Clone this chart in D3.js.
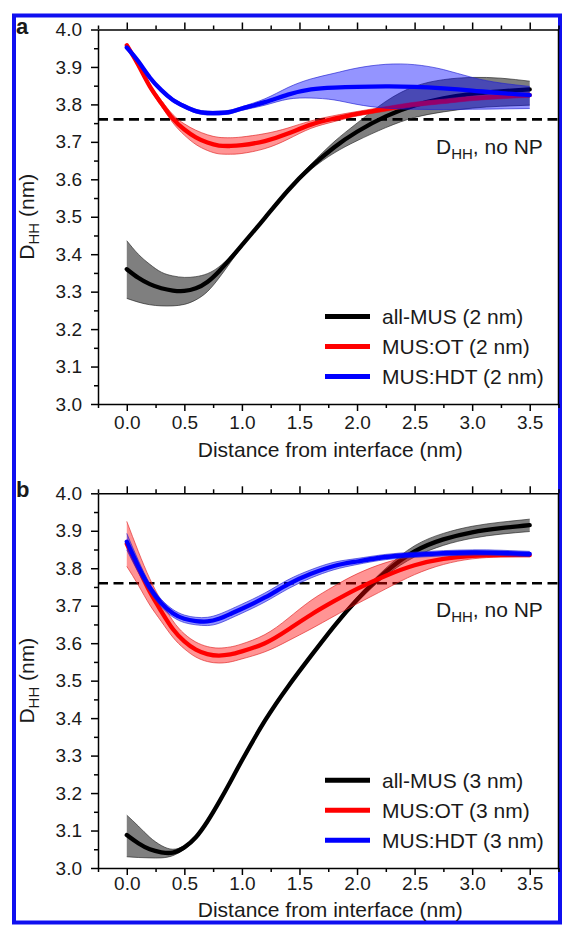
<!DOCTYPE html>
<html>
<head>
<meta charset="utf-8">
<script src="https://cdn.jsdelivr.net/npm/d3@7"></script>
<style>
  html, body { margin: 0; padding: 0; background: #fff; }
  svg { display: block; }
  text { font-family: "Liberation Sans", Arial, sans-serif; fill: #1a1a1a; }
</style>
</head>
<body>
<svg id="fig" width="562" height="925"></svg>
<script>
// Distance from the interface (nm), shared by every profile
const distance = [0, 0.1, 0.2, 0.3, 0.4, 0.5, 0.6, 0.7, 0.8, 0.9, 1.0, 1.2, 1.4, 1.6, 1.8, 2.0, 2.25, 2.5, 2.75, 3.0, 3.25, 3.5];

// Panel a: 2 nm nanoparticles — mean D_HH and its confidence band (nm)
const a_allMUS_mean  = [3.360, 3.337, 3.320, 3.309, 3.303, 3.302, 3.309, 3.326, 3.354, 3.388, 3.424, 3.497, 3.570, 3.633, 3.685, 3.727, 3.768, 3.797, 3.816, 3.828, 3.835, 3.840];
const a_allMUS_lower = [3.282, 3.272, 3.265, 3.262, 3.262, 3.266, 3.278, 3.300, 3.336, 3.378, 3.419, 3.494, 3.566, 3.626, 3.670, 3.703, 3.738, 3.765, 3.780, 3.790, 3.795, 3.798];
const a_allMUS_upper = [3.436, 3.400, 3.373, 3.352, 3.342, 3.338, 3.340, 3.348, 3.366, 3.394, 3.428, 3.500, 3.574, 3.640, 3.700, 3.750, 3.808, 3.848, 3.866, 3.872, 3.870, 3.862];

const a_OT_mean  = [3.958, 3.905, 3.848, 3.803, 3.762, 3.733, 3.712, 3.698, 3.690, 3.689, 3.691, 3.702, 3.722, 3.746, 3.762, 3.775, 3.788, 3.800, 3.808, 3.816, 3.821, 3.825];
const a_OT_lower = [3.954, 3.900, 3.842, 3.795, 3.751, 3.718, 3.693, 3.677, 3.668, 3.667, 3.669, 3.682, 3.707, 3.736, 3.754, 3.769, 3.782, 3.794, 3.802, 3.810, 3.815, 3.819];
const a_OT_upper = [3.962, 3.910, 3.854, 3.811, 3.773, 3.748, 3.731, 3.719, 3.712, 3.711, 3.713, 3.722, 3.737, 3.756, 3.770, 3.781, 3.794, 3.806, 3.814, 3.822, 3.827, 3.831];

const a_HDT_mean  = [3.952, 3.915, 3.872, 3.838, 3.812, 3.795, 3.782, 3.777, 3.777, 3.780, 3.789, 3.806, 3.826, 3.840, 3.845, 3.847, 3.848, 3.847, 3.843, 3.837, 3.830, 3.825];
const a_HDT_lower = [3.948, 3.910, 3.867, 3.833, 3.807, 3.790, 3.777, 3.772, 3.772, 3.775, 3.784, 3.798, 3.814, 3.817, 3.812, 3.800, 3.790, 3.787, 3.786, 3.787, 3.788, 3.789];
const a_HDT_upper = [3.956, 3.920, 3.877, 3.843, 3.817, 3.800, 3.787, 3.782, 3.782, 3.785, 3.794, 3.815, 3.845, 3.868, 3.883, 3.897, 3.907, 3.906, 3.893, 3.872, 3.857, 3.848];

// Panel b: 3 nm nanoparticles
const b_allMUS_mean  = [3.088, 3.066, 3.050, 3.042, 3.041, 3.055, 3.082, 3.124, 3.175, 3.230, 3.287, 3.393, 3.484, 3.566, 3.645, 3.716, 3.790, 3.845, 3.877, 3.896, 3.907, 3.915];
const b_allMUS_lower = [3.030, 3.028, 3.027, 3.027, 3.033, 3.050, 3.077, 3.119, 3.170, 3.225, 3.282, 3.388, 3.479, 3.561, 3.640, 3.709, 3.780, 3.830, 3.861, 3.880, 3.891, 3.898];
const b_allMUS_upper = [3.141, 3.112, 3.082, 3.060, 3.050, 3.060, 3.087, 3.129, 3.180, 3.235, 3.292, 3.398, 3.489, 3.571, 3.650, 3.723, 3.800, 3.860, 3.893, 3.912, 3.923, 3.931];

const b_OT_mean  = [3.865, 3.800, 3.737, 3.685, 3.638, 3.605, 3.583, 3.571, 3.567, 3.570, 3.578, 3.600, 3.636, 3.676, 3.712, 3.745, 3.780, 3.808, 3.825, 3.833, 3.835, 3.835];
const b_OT_lower = [3.805, 3.755, 3.702, 3.658, 3.616, 3.585, 3.563, 3.551, 3.547, 3.550, 3.558, 3.577, 3.606, 3.638, 3.672, 3.705, 3.745, 3.783, 3.810, 3.825, 3.830, 3.831];
const b_OT_upper = [3.925, 3.845, 3.772, 3.712, 3.660, 3.625, 3.603, 3.591, 3.587, 3.590, 3.598, 3.623, 3.666, 3.714, 3.752, 3.785, 3.815, 3.833, 3.840, 3.841, 3.840, 3.839];

const b_HDT_mean  = [3.871, 3.805, 3.748, 3.707, 3.680, 3.665, 3.659, 3.658, 3.665, 3.678, 3.692, 3.722, 3.757, 3.785, 3.806, 3.818, 3.830, 3.836, 3.840, 3.842, 3.841, 3.838];
const b_HDT_lower = [3.849, 3.789, 3.737, 3.697, 3.670, 3.655, 3.649, 3.647, 3.653, 3.666, 3.680, 3.710, 3.745, 3.774, 3.796, 3.810, 3.823, 3.829, 3.833, 3.835, 3.834, 3.831];
const b_HDT_upper = [3.893, 3.821, 3.759, 3.717, 3.690, 3.675, 3.669, 3.669, 3.677, 3.690, 3.704, 3.734, 3.769, 3.796, 3.816, 3.826, 3.837, 3.843, 3.847, 3.849, 3.848, 3.845];

// Reference head-head distance without nanoparticle (nm)
const dhhNoNP = 3.76;

// Axis ticks
const xMajorTicks = [0, 0.5, 1.0, 1.5, 2.0, 2.5, 3.0, 3.5];
const xMinorTicks = [-0.25, 0.25, 0.75, 1.25, 1.75, 2.25, 2.75, 3.25, 3.75];
const yMajorTicks = [3.0, 3.1, 3.2, 3.3, 3.4, 3.5, 3.6, 3.7, 3.8, 3.9, 4.0];
const yMinorTicks = [3.05, 3.15, 3.25, 3.35, 3.45, 3.55, 3.65, 3.75, 3.85, 3.95];

const seriesNames = ["all-MUS", "MUS:OT", "MUS:HDT"];
const seriesColors = ["#000000", "#ff0000", "#0000ff"];
const bandFills = ["rgba(0,0,0,0.5)", "rgba(255,0,0,0.42)", "rgba(0,0,255,0.42)"];
const bandEdges = ["#222222", "#e02020", "#2020d0"];

const panels = [
  { label: "a", size: "2 nm", top: 29.5, bottom: 404, tickPad: 5, titleDy: 53,
    series: [
      [a_allMUS_mean, a_allMUS_lower, a_allMUS_upper],
      [a_OT_mean, a_OT_lower, a_OT_upper],
      [a_HDT_mean, a_HDT_lower, a_HDT_upper]
    ] },
  { label: "b", size: "3 nm", top: 493.3, bottom: 868, tickPad: 1.5, titleDy: 48.5,
    series: [
      [b_allMUS_mean, b_allMUS_lower, b_allMUS_upper],
      [b_OT_mean, b_OT_lower, b_OT_upper],
      [b_HDT_mean, b_HDT_lower, b_HDT_upper]
    ] }
];

const svg = d3.select("#fig");
const left = 98, right = 558.5;

// Blue figure frame
svg.append("rect")
  .attr("x", 14).attr("y", 15.5).attr("width", 546).attr("height", 907)
  .attr("fill", "none").attr("stroke", "#1010f0").attr("stroke-width", 4);

panels.forEach(p => {
  const x = d3.scaleLinear().domain([-0.25, 3.75]).range([left, right]);
  const y = d3.scaleLinear().domain([3.0, 4.0]).range([p.bottom, p.top]);
  const g = svg.append("g");

  const clipId = "clip-" + p.label;
  g.append("clipPath").attr("id", clipId)
    .append("rect").attr("x", left).attr("y", p.top).attr("width", right - left).attr("height", p.bottom - p.top);

  const plot = g.append("g").attr("clip-path", `url(#${clipId})`);

  // Reference line
  plot.append("line")
    .attr("x1", x(-0.25)).attr("x2", x(3.75))
    .attr("y1", y(dhhNoNP)).attr("y2", y(dhhNoNP))
    .attr("stroke", "#000").attr("stroke-width", 2.6)
    .attr("stroke-dasharray", "10,5.5");

  const curve = d3.curveNatural;
  const area = d3.area()
    .x((d, i) => x(distance[i]))
    .y0(d => y(d[0]))
    .y1(d => y(d[1]))
    .curve(curve);
  const line = d3.line()
    .x((d, i) => x(distance[i]))
    .y(d => y(d))
    .curve(curve);

  p.series.forEach((s, k) => {
    const [mean, lower, upper] = s;
    const band = lower.map((v, i) => [v, upper[i]]);
    plot.append("path").datum(band)
      .attr("d", area)
      .attr("fill", bandFills[k]).attr("stroke", "none");
    plot.append("path").datum(lower).attr("d", line)
      .attr("fill", "none").attr("stroke", bandEdges[k]).attr("stroke-width", 0.8).attr("stroke-opacity", 0.8);
    plot.append("path").datum(upper).attr("d", line)
      .attr("fill", "none").attr("stroke", bandEdges[k]).attr("stroke-width", 0.8).attr("stroke-opacity", 0.8);
    plot.append("path").datum(mean).attr("d", line)
      .attr("fill", "none").attr("stroke", seriesColors[k]).attr("stroke-width", 4.3)
      .attr("stroke-linecap", "round");
  });

  const axisStroke = sel => sel.selectAll("path, line").attr("stroke", "#000").attr("stroke-width", 1.5);

  // Bottom axis with labels, plus minor ticks
  const gx = g.append("g").attr("transform", `translate(0,${p.bottom})`)
    .call(d3.axisBottom(x).tickValues(xMajorTicks).tickSize(7).tickSizeOuter(0).tickPadding(p.tickPad)
      .tickFormat(d3.format(".1f")))
    .call(axisStroke);
  gx.selectAll("text").attr("font-size", 19).attr("fill", "#1a1a1a");
  g.append("g").attr("transform", `translate(0,${p.bottom})`)
    .call(d3.axisBottom(x).tickValues(xMinorTicks).tickSize(4).tickSizeOuter(0).tickFormat(""))
    .call(axisStroke).select(".domain").remove();

  // Top axis: ticks only
  g.append("g").attr("transform", `translate(0,${p.top})`)
    .call(d3.axisTop(x).tickValues(xMajorTicks).tickSize(7).tickSizeOuter(0).tickFormat(""))
    .call(axisStroke);
  g.append("g").attr("transform", `translate(0,${p.top})`)
    .call(d3.axisTop(x).tickValues(xMinorTicks).tickSize(4).tickSizeOuter(0).tickFormat(""))
    .call(axisStroke).select(".domain").remove();

  // Left axis
  const gy = g.append("g").attr("transform", `translate(${left},0)`)
    .call(d3.axisLeft(y).tickValues(yMajorTicks).tickSize(7).tickSizeOuter(0).tickPadding(9)
      .tickFormat(d3.format(".1f")))
    .call(axisStroke);
  gy.selectAll("text").attr("font-size", 19).attr("fill", "#1a1a1a");
  g.append("g").attr("transform", `translate(${left},0)`)
    .call(d3.axisLeft(y).tickValues(yMinorTicks).tickSize(4).tickSizeOuter(0).tickFormat(""))
    .call(axisStroke).select(".domain").remove();

  // Right frame line
  g.append("line").attr("x1", right).attr("x2", right).attr("y1", p.top).attr("y2", p.bottom)
    .attr("stroke", "#000").attr("stroke-width", 1.5);

  // Axis titles
  g.append("text")
    .attr("x", (left + right) / 2 + 2).attr("y", p.bottom + p.titleDy)
    .attr("text-anchor", "middle").attr("font-size", 21)
    .text("Distance from interface (nm)");

  const yt = g.append("text")
    .attr("transform", `translate(34,${(p.top + p.bottom) / 2}) rotate(-90)`)
    .attr("text-anchor", "middle").attr("font-size", 21);
  yt.append("tspan").text("D");
  yt.append("tspan").attr("font-size", 15).attr("dy", 5).text("HH");
  yt.append("tspan").attr("dy", -5).text(" (nm)");

  // Panel letter
  g.append("text").attr("x", 16).attr("y", p.top + 4)
    .attr("font-size", 22).attr("font-weight", "bold").attr("fill", "#000")
    .text(p.label);

  // Label for the reference line
  const ann = g.append("text").attr("x", 436).attr("y", p.top + 124).attr("font-size", 21);
  ann.append("tspan").text("D");
  ann.append("tspan").attr("font-size", 15).attr("dy", 5).text("HH");
  ann.append("tspan").attr("dy", -5).text(", no NP");

  // Legend
  seriesNames.forEach((name, k) => {
    const ly = p.top + 287 + k * 30;
    g.append("line").attr("x1", 325).attr("x2", 370).attr("y1", ly).attr("y2", ly)
      .attr("stroke", seriesColors[k]).attr("stroke-width", 5);
    g.append("text").attr("x", 382).attr("y", ly + 7.5).attr("font-size", 21)
      .text(`${name} (${p.size})`);
  });
});
</script>
</body>
</html>
